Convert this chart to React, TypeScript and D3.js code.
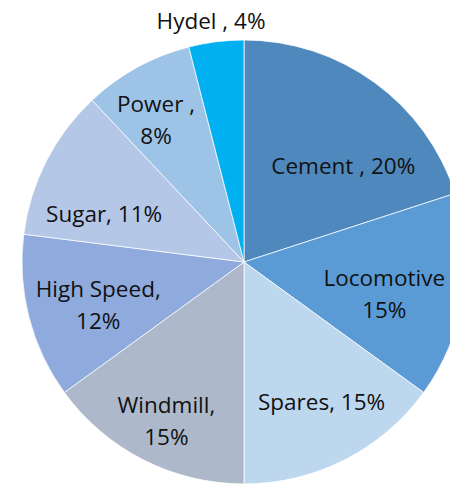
import React from "react";
import * as d3 from "d3";

const categories = ["Cement", "Locomotive", "Spares", "Windmill", "High Speed", "Sugar", "Power", "Hydel"];
const values = [20, 15, 15, 15, 12, 11, 8, 4];
const labelLines = [
  ["Cement , 20%"],
  ["Locomotive", "15%"],
  ["Spares, 15%"],
  ["Windmill,", "15%"],
  ["High Speed,", "12%"],
  ["Sugar, 11%"],
  ["Power ,", "8%"],
  ["Hydel , 4%"],
];
const colors = ["#4f88bd", "#5b9bd5", "#bdd7ee", "#adb9ca", "#8faadc", "#b4c7e7", "#9dc3e6", "#00b0f0"];
// label layout: radius from centre and angle shift (degrees)
const labelRadius = [138, 144, 160, 177, 152, 148, 167, 243];
const labelShift = [10, 4, -2, -1, -2, -8, -3, -0.6];

export default function App() {
  const W = 450, H = 484;
  const cx = 244, cy = 262, r = 222;
  const pie = d3.pie<number>().sort(null).value((d) => d);
  const arcs = pie(values);
  const arc = d3.arc<d3.PieArcDatum<number>>().innerRadius(0).outerRadius(r);
  const lineH = 32;
  return (
    <svg width={W} height={H} style={{ position: "absolute", left: 0, top: 0 }}>
      <rect width={W} height={H} fill="#fff" />
      <g transform={`translate(${cx},${cy})`}>
        {arcs.map((a, i) => (
          <path key={categories[i]} d={arc(a) || ""} fill={colors[i]} stroke="#fff" strokeWidth={0.75} />
        ))}
        {arcs.map((a, i) => {
          const mid = (a.startAngle + a.endAngle) / 2 + (labelShift[i] * Math.PI) / 180;
          const x = Math.sin(mid) * labelRadius[i];
          const y = -Math.cos(mid) * labelRadius[i];
          const lines = labelLines[i];
          const y0 = y - ((lines.length - 1) * lineH) / 2;
          return (
            <text key={"l" + i} textAnchor="middle" fontFamily="Open Sans" fontSize={22.5} fill="#111">
              {lines.map((t, j) => (
                <tspan key={j} x={x} y={y0 + j * lineH} dy="0.35em">{t}</tspan>
              ))}
            </text>
          );
        })}
      </g>
    </svg>
  );
}
